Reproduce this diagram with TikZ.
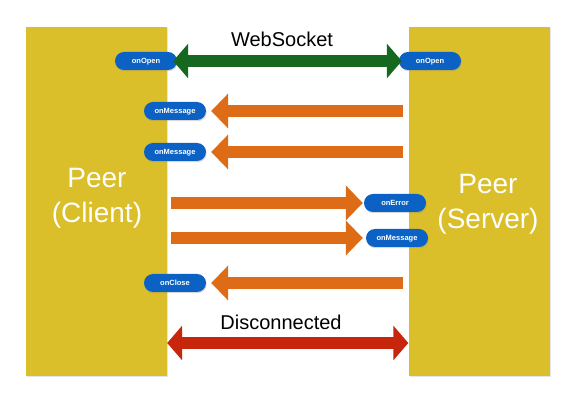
\documentclass[tikz,border=0pt]{standalone}
\usepackage{fontspec}
\setmainfont{Liberation Sans}
\usetikzlibrary{arrows.meta,shadows}
\definecolor{colY}{RGB}{218,190,42}
\definecolor{wsgreen}{RGB}{22,104,30}
\definecolor{msgorange}{RGB}{222,108,22}
\definecolor{discred}{RGB}{200,38,12}
\definecolor{pillblue}{RGB}{12,98,196}
\begin{document}
\begin{tikzpicture}[x=1pt,y=-1pt,
  column/.style={fill=colY, draw=none, minimum width=141pt, minimum height=349pt, inner sep=0pt,
    drop shadow={opacity=0.2, shadow xshift=1pt, shadow yshift=-1.5pt}},
  pill/.style={fill=pillblue, text=white, font=\bfseries\fontsize{7.5}{8}\selectfont,
    rounded corners=9pt, minimum width=62pt, minimum height=18pt, inner sep=0pt,
    text height=5.6pt, text depth=0.4pt,
    drop shadow={opacity=0.3, shadow xshift=0.6pt, shadow yshift=-1.2pt}},
  peer/.style={text=white, font=\fontsize{28}{34}\selectfont, anchor=base, inner sep=0pt},
  label/.style={text=black, font=\fontsize{20}{24}\selectfont, anchor=base, inner sep=0pt},
  onearrow/.style={line width=12.5pt, -{Triangle[width=34pt,length=17pt]}},
  twoarrow/.style={line width=12.5pt, {Triangle[width=34pt,length=15pt]}-{Triangle[width=34pt,length=15pt]}},
]
\useasboundingbox[fill=white] (0,0) rectangle (584,411);

% columns
\node[column] (L) at (96.5,201.5) {};
\node[column] (R) at (479,201.5) {};

% peer labels
\node[peer] (lt1) at (97,188) {Peer};
\node[peer] (lt2) at (97,223) {(Client)};
\node[peer] (rt1) at (488,194) {Peer};
\node[peer] (rt2) at (488,229) {(Server)};

% texts
\node[label] (ws) at (282,47) {WebSocket};
\node[label] (dc) at (281,330) {Disconnected};

% pills
\node[pill] (oL) at (146,61) {onOpen};
\node[pill] (oR) at (430,61) {onOpen};
\node[pill] (m1) at (175,111) {onMessage};
\node[pill] (m2) at (175,152) {onMessage};
\node[pill] (err) at (395,203) {onError};
\node[pill] (m3) at (397,238) {onMessage};
\node[pill] (cl) at (175,283) {onClose};

% coordinates for free ends
\coordinate (t1) at (403,111);
\coordinate (t2) at (403,152);
\coordinate (t3) at (171,203);
\coordinate (t4) at (171,238);
\coordinate (t5) at (403,283);
\coordinate (yd) at (0,343);

% arrows
\draw[twoarrow, wsgreen, shorten <=-4pt, shorten >=-3pt] (oL.east) -- (oR.west);
\draw[onearrow, msgorange, shorten >=5pt] (t1) -- (m1.east);
\draw[onearrow, msgorange, shorten >=5pt] (t2) -- (m2.east);
\draw[onearrow, msgorange, shorten >=1pt] (t3) -- (err.west);
\draw[onearrow, msgorange, shorten >=3pt] (t4) -- (m3.west);
\draw[onearrow, msgorange, shorten >=5pt] (t5) -- (cl.east);
\draw[twoarrow, discred] (L.east |- yd) -- (R.west |- yd);
\end{tikzpicture}
\end{document}
